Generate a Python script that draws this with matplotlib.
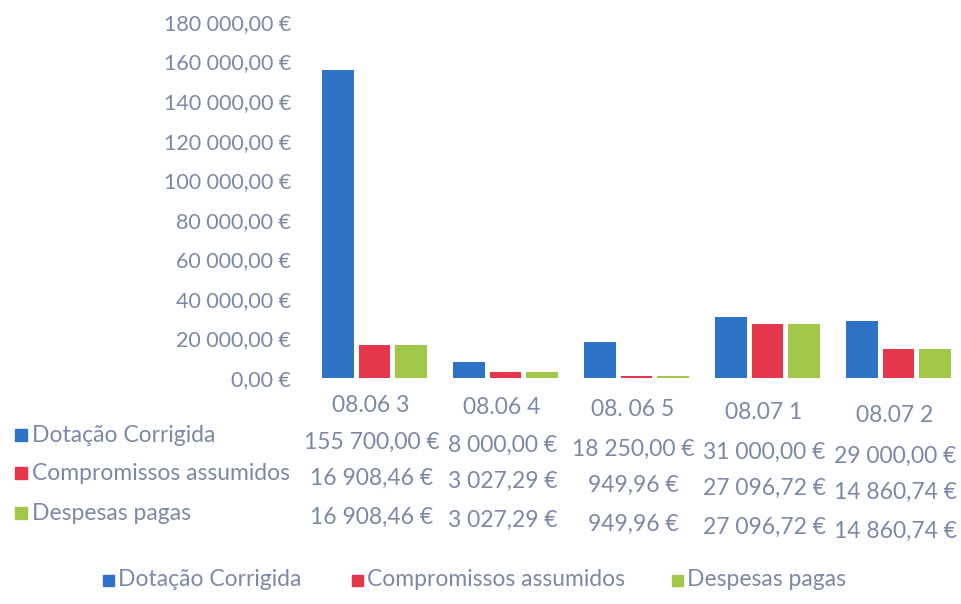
import matplotlib
matplotlib.use("Agg")
import matplotlib.pyplot as plt
import numpy as np
from matplotlib.patches import Rectangle

categories = ["08.06 3", "08.06 4", "08. 06 5", "08.07 1", "08.07 2"]
series_names = ["Dotação Corrigida", "Compromissos assumidos", "Despesas pagas"]
dotacao = [155700.00, 8000.00, 18250.00, 31000.00, 29000.00]
compromissos = [16908.46, 3027.29, 949.96, 27096.72, 14860.74]
despesas = [16908.46, 3027.29, 949.96, 27096.72, 14860.74]
y_ticks = [0, 20000, 40000, 60000, 80000, 100000, 120000, 140000, 160000, 180000]

colors = ["#2d72c6", "#e5364b", "#a2c84a"]
text_color = "#7d88a6"
FONT = ["Lato", "DejaVu Sans"]
FS = 16.5

def eur(v):
    s = f"{v:,.2f}"
    s = s.replace(",", "X").replace(".", ",").replace("X", " ")
    return s + " €"

W, H = 962, 604
fig = plt.figure(figsize=(W / 100, H / 100), dpi=100)
fig.patch.set_facecolor("white")

left_px, right_px = 309, 964
bottom_px, top_px = 378, 22
ax = fig.add_axes([left_px / W, 1 - bottom_px / H, (right_px - left_px) / W, (bottom_px - top_px) / H])

x = np.arange(len(categories))
width = 0.24
offsets = [-0.28, 0.0, 0.28]
for data, off, c, name in zip([dotacao, compromissos, despesas], offsets, colors, series_names):
    ax.bar(x + off, data, width, color=c, label=name)

ax.set_xlim(-0.5, len(categories) - 0.5)
ax.set_ylim(0, 180000)
ax.set_yticks(y_ticks)
ax.set_yticklabels([eur(v) for v in y_ticks], fontsize=15.5, color=text_color, family=FONT)
ax.tick_params(axis="y", length=0, pad=13)
ax.set_xticks([])
for s in ax.spines.values():
    s.set_visible(False)

slope = 3.5
for i, cat in enumerate(categories):
    xp = ax.transData.transform((i, 0))[0] - 4
    fig.text(xp / W, 1 - (405 + i * 2.5) / H, cat, ha="center", va="center",
             fontsize=FS, color=text_color, family=FONT)

label_y = [435, 473, 513]
value_y = [442, 478, 517]
for r, (name, data, c) in enumerate(zip(series_names, [dotacao, compromissos, despesas], colors)):
    fig.add_artist(Rectangle((15 / W, 1 - (label_y[r] + 6) / H), 12 / W, 12 / H,
                             transform=fig.transFigure, color=c))
    fig.text(32 / W, 1 - label_y[r] / H, name, ha="left", va="center",
             fontsize=FS, color=text_color, family=FONT)
    for i, v in enumerate(data):
        xp = ax.transData.transform((i, 0))[0] - 3
        fig.text(xp / W, 1 - (value_y[r] + i * slope) / H, eur(v), ha="center", va="center",
                 fontsize=FS, color=text_color, family=FONT)

leg_x = [103, 352, 672]
for name, c, lx in zip(series_names, colors, leg_x):
    fig.add_artist(Rectangle((lx / W, 1 - 586 / H), 11 / W, 11 / H,
                             transform=fig.transFigure, color=c))
    fig.text((lx + 15) / W, 1 - 580 / H, name, ha="left", va="center",
             fontsize=FS, color=text_color, family=FONT)

fig.savefig("out.png", dpi=100, facecolor="white")
